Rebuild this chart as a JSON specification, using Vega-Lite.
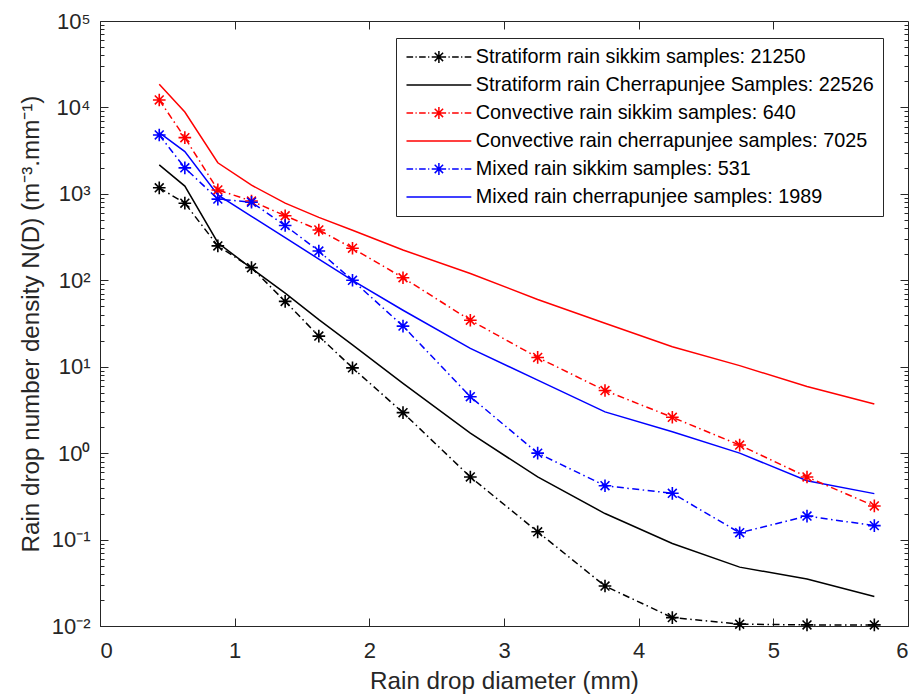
{
  "$schema": "https://vega.github.io/schema/vega-lite/v6.json",
  "width": 808,
  "height": 605,
  "autosize": {"type": "none"},
  "padding": {"left": 100, "top": 21, "right": 6, "bottom": 69},
  "background": "white",
  "config": {
    "view": {"stroke": "#262626", "strokeWidth": 1},
    "font": "Liberation Sans",
    "axis": {
      "domainColor": "#262626", "tickColor": "#262626", "labelColor": "#262626", "titleColor": "#262626",
      "grid": false, "labelFont": "Liberation Sans", "titleFont": "Liberation Sans", "titleFontWeight": "normal",
      "tickWidth": 1, "domainWidth": 1
    }
  },
  "data": {"values": [
    {"s": "Stratiform rain sikkim samples: 21250", "d": 0.44, "n": 1175},
    {"s": "Stratiform rain sikkim samples: 21250", "d": 0.63, "n": 780},
    {"s": "Stratiform rain sikkim samples: 21250", "d": 0.875, "n": 250},
    {"s": "Stratiform rain sikkim samples: 21250", "d": 1.125, "n": 140},
    {"s": "Stratiform rain sikkim samples: 21250", "d": 1.375, "n": 57},
    {"s": "Stratiform rain sikkim samples: 21250", "d": 1.625, "n": 22.6},
    {"s": "Stratiform rain sikkim samples: 21250", "d": 1.875, "n": 9.7},
    {"s": "Stratiform rain sikkim samples: 21250", "d": 2.25, "n": 2.94},
    {"s": "Stratiform rain sikkim samples: 21250", "d": 2.75, "n": 0.53},
    {"s": "Stratiform rain sikkim samples: 21250", "d": 3.25, "n": 0.123},
    {"s": "Stratiform rain sikkim samples: 21250", "d": 3.75, "n": 0.029},
    {"s": "Stratiform rain sikkim samples: 21250", "d": 4.25, "n": 0.0125},
    {"s": "Stratiform rain sikkim samples: 21250", "d": 4.75, "n": 0.0105},
    {"s": "Stratiform rain sikkim samples: 21250", "d": 5.25, "n": 0.0103},
    {"s": "Stratiform rain sikkim samples: 21250", "d": 5.75, "n": 0.0103},
    {"s": "Stratiform rain Cherrapunjee Samples: 22526", "d": 0.44, "n": 2160},
    {"s": "Stratiform rain Cherrapunjee Samples: 22526", "d": 0.63, "n": 1230},
    {"s": "Stratiform rain Cherrapunjee Samples: 22526", "d": 0.875, "n": 272},
    {"s": "Stratiform rain Cherrapunjee Samples: 22526", "d": 1.125, "n": 137},
    {"s": "Stratiform rain Cherrapunjee Samples: 22526", "d": 1.375, "n": 71},
    {"s": "Stratiform rain Cherrapunjee Samples: 22526", "d": 1.625, "n": 35},
    {"s": "Stratiform rain Cherrapunjee Samples: 22526", "d": 1.875, "n": 17.9},
    {"s": "Stratiform rain Cherrapunjee Samples: 22526", "d": 2.25, "n": 6.4},
    {"s": "Stratiform rain Cherrapunjee Samples: 22526", "d": 2.75, "n": 1.7},
    {"s": "Stratiform rain Cherrapunjee Samples: 22526", "d": 3.25, "n": 0.53},
    {"s": "Stratiform rain Cherrapunjee Samples: 22526", "d": 3.75, "n": 0.2},
    {"s": "Stratiform rain Cherrapunjee Samples: 22526", "d": 4.25, "n": 0.09},
    {"s": "Stratiform rain Cherrapunjee Samples: 22526", "d": 4.75, "n": 0.048},
    {"s": "Stratiform rain Cherrapunjee Samples: 22526", "d": 5.25, "n": 0.035},
    {"s": "Stratiform rain Cherrapunjee Samples: 22526", "d": 5.75, "n": 0.022},
    {"s": "Convective rain sikkim samples: 640", "d": 0.44, "n": 12200},
    {"s": "Convective rain sikkim samples: 640", "d": 0.63, "n": 4470},
    {"s": "Convective rain sikkim samples: 640", "d": 0.875, "n": 1110},
    {"s": "Convective rain sikkim samples: 640", "d": 1.125, "n": 826},
    {"s": "Convective rain sikkim samples: 640", "d": 1.375, "n": 558},
    {"s": "Convective rain sikkim samples: 640", "d": 1.625, "n": 382},
    {"s": "Convective rain sikkim samples: 640", "d": 1.875, "n": 235},
    {"s": "Convective rain sikkim samples: 640", "d": 2.25, "n": 107},
    {"s": "Convective rain sikkim samples: 640", "d": 2.75, "n": 34.5},
    {"s": "Convective rain sikkim samples: 640", "d": 3.25, "n": 12.8},
    {"s": "Convective rain sikkim samples: 640", "d": 3.75, "n": 5.3},
    {"s": "Convective rain sikkim samples: 640", "d": 4.25, "n": 2.6},
    {"s": "Convective rain sikkim samples: 640", "d": 4.75, "n": 1.24},
    {"s": "Convective rain sikkim samples: 640", "d": 5.25, "n": 0.53},
    {"s": "Convective rain sikkim samples: 640", "d": 5.75, "n": 0.245},
    {"s": "Convective rain cherrapunjee samples: 7025", "d": 0.44, "n": 18500},
    {"s": "Convective rain cherrapunjee samples: 7025", "d": 0.63, "n": 8850},
    {"s": "Convective rain cherrapunjee samples: 7025", "d": 0.875, "n": 2290},
    {"s": "Convective rain cherrapunjee samples: 7025", "d": 1.125, "n": 1260},
    {"s": "Convective rain cherrapunjee samples: 7025", "d": 1.375, "n": 780},
    {"s": "Convective rain cherrapunjee samples: 7025", "d": 1.625, "n": 535},
    {"s": "Convective rain cherrapunjee samples: 7025", "d": 1.875, "n": 380},
    {"s": "Convective rain cherrapunjee samples: 7025", "d": 2.25, "n": 224},
    {"s": "Convective rain cherrapunjee samples: 7025", "d": 2.75, "n": 120},
    {"s": "Convective rain cherrapunjee samples: 7025", "d": 3.25, "n": 60},
    {"s": "Convective rain cherrapunjee samples: 7025", "d": 3.75, "n": 31.8},
    {"s": "Convective rain cherrapunjee samples: 7025", "d": 4.25, "n": 17},
    {"s": "Convective rain cherrapunjee samples: 7025", "d": 4.75, "n": 10.3},
    {"s": "Convective rain cherrapunjee samples: 7025", "d": 5.25, "n": 5.9},
    {"s": "Convective rain cherrapunjee samples: 7025", "d": 5.75, "n": 3.7},
    {"s": "Mixed rain sikkim samples: 531", "d": 0.44, "n": 4800},
    {"s": "Mixed rain sikkim samples: 531", "d": 0.63, "n": 2000},
    {"s": "Mixed rain sikkim samples: 531", "d": 0.875, "n": 870},
    {"s": "Mixed rain sikkim samples: 531", "d": 1.125, "n": 800},
    {"s": "Mixed rain sikkim samples: 531", "d": 1.375, "n": 430},
    {"s": "Mixed rain sikkim samples: 531", "d": 1.625, "n": 218},
    {"s": "Mixed rain sikkim samples: 531", "d": 1.875, "n": 100},
    {"s": "Mixed rain sikkim samples: 531", "d": 2.25, "n": 29.5},
    {"s": "Mixed rain sikkim samples: 531", "d": 2.75, "n": 4.5},
    {"s": "Mixed rain sikkim samples: 531", "d": 3.25, "n": 1.0},
    {"s": "Mixed rain sikkim samples: 531", "d": 3.75, "n": 0.42},
    {"s": "Mixed rain sikkim samples: 531", "d": 4.25, "n": 0.343},
    {"s": "Mixed rain sikkim samples: 531", "d": 4.75, "n": 0.12},
    {"s": "Mixed rain sikkim samples: 531", "d": 5.25, "n": 0.187},
    {"s": "Mixed rain sikkim samples: 531", "d": 5.75, "n": 0.145},
    {"s": "Mixed rain cherrapunjee samples: 1989", "d": 0.44, "n": 5100},
    {"s": "Mixed rain cherrapunjee samples: 1989", "d": 0.63, "n": 3080},
    {"s": "Mixed rain cherrapunjee samples: 1989", "d": 0.875, "n": 970},
    {"s": "Mixed rain cherrapunjee samples: 1989", "d": 1.125, "n": 550},
    {"s": "Mixed rain cherrapunjee samples: 1989", "d": 1.375, "n": 311},
    {"s": "Mixed rain cherrapunjee samples: 1989", "d": 1.625, "n": 176},
    {"s": "Mixed rain cherrapunjee samples: 1989", "d": 1.875, "n": 100},
    {"s": "Mixed rain cherrapunjee samples: 1989", "d": 2.25, "n": 45},
    {"s": "Mixed rain cherrapunjee samples: 1989", "d": 2.75, "n": 16.3},
    {"s": "Mixed rain cherrapunjee samples: 1989", "d": 3.25, "n": 7.0},
    {"s": "Mixed rain cherrapunjee samples: 1989", "d": 3.75, "n": 3.0},
    {"s": "Mixed rain cherrapunjee samples: 1989", "d": 4.25, "n": 1.77},
    {"s": "Mixed rain cherrapunjee samples: 1989", "d": 4.75, "n": 1.0},
    {"s": "Mixed rain cherrapunjee samples: 1989", "d": 5.25, "n": 0.48},
    {"s": "Mixed rain cherrapunjee samples: 1989", "d": 5.75, "n": 0.34}
  ]},
  "resolve": {"axis": {"x": "independent", "y": "independent"}},
  "layer": [
    {
      "transform": [{"filter": "indexof(datum.s, 'sikkim') < 0"}],
      "mark": {"type": "line", "strokeWidth": 1.5},
      "encoding": {
        "x": {"field": "d", "type": "quantitative", "scale": {"domain": [0, 6], "nice": false},
          "axis": {"orient": "bottom", "values": [0, 1, 2, 3, 4, 5, 6], "tickSize": -8, "labelPadding": 22, "labelFontSize": 22, "format": "d", "title": "Rain drop diameter (mm)", "titleFontSize": 24.2, "titlePadding": 8}},
        "y": {"field": "n", "type": "quantitative", "scale": {"type": "log", "domain": [0.01, 100000], "nice": false},
          "axis": {"orient": "left", "values": [0.01, 0.1, 1, 10, 100, 1000, 10000, 100000], "tickSize": -8, "labelPadding": 18, "labelFontSize": 22,
            "labelExpr": "'10' + (datum.value < 0.05 ? '⁻²' : datum.value < 0.5 ? '⁻¹' : datum.value < 5 ? '⁰' : datum.value < 50 ? '¹' : datum.value < 500 ? '²' : datum.value < 5000 ? '³' : datum.value < 50000 ? '⁴' : '⁵')",
            "title": "Rain drop number density N(D) (m⁻³.mm⁻¹)", "titleFontSize": 24.2, "titlePadding": 8}},
        "color": {"field": "s", "type": "nominal",
          "scale": {"domain": ["Stratiform rain sikkim samples: 21250", "Stratiform rain Cherrapunjee Samples: 22526", "Convective rain sikkim samples: 640", "Convective rain cherrapunjee samples: 7025", "Mixed rain sikkim samples: 531", "Mixed rain cherrapunjee samples: 1989"],
            "range": ["#000000", "#000000", "#ff0000", "#ff0000", "#0000ff", "#0000ff"]},
          "legend": {"orient": "none", "legendX": 296, "legendY": 17, "title": null, "strokeColor": "#262626", "fillColor": "white", "padding": 9,
            "symbolSize": 144, "symbolOffset": 24, "labelOffset": 27, "labelFontSize": 19.8, "labelFont": "Liberation Sans", "labelColor": "#000000", "rowPadding": 7, "labelLimit": 0, "symbolStrokeWidth": 1.5,
            "encode": {"symbols": {"update": {
              "shape": {"signal": "indexof(datum.value, 'sikkim') >= 0 ? 'M-5.4,0H-4.3M-3.9,0H-3.7M-3.3,0H-2.2M-1.8,0H-1.6M-1.2,0H1.2M1.6,0H1.8M2.2,0H3.3M3.7,0H3.9M4.3,0H5.4M0,-1V1M-0.7,-0.7L0.7,0.7M-0.7,0.7L0.7,-0.7' : 'M-5.4,0H5.4'"},
              "fill": {"value": "transparent"}, "strokeWidth": {"value": 1.5}, "opacity": {"value": 1}}}}}}
      }
    },
    {
      "transform": [{"filter": "indexof(datum.s, 'sikkim') >= 0"}],
      "mark": {"type": "line", "strokeWidth": 1.5, "strokeDash": [7, 3.5, 1.5, 3.5]},
      "encoding": {
        "x": {"field": "d", "type": "quantitative", "scale": {"domain": [0, 6], "nice": false}, "axis": null},
        "y": {"field": "n", "type": "quantitative", "scale": {"type": "log", "domain": [0.01, 100000], "nice": false}, "axis": null},
        "color": {"field": "s", "type": "nominal"}
      }
    },
    {
      "transform": [{"filter": "indexof(datum.s, 'sikkim') >= 0"}],
      "mark": {"type": "point", "filled": false, "shape": "M-1,0H1M0,-1V1M-0.7,-0.7L0.7,0.7M-0.7,0.7L0.7,-0.7", "size": 160, "strokeWidth": 1.6, "opacity": 1},
      "encoding": {
        "x": {"field": "d", "type": "quantitative", "scale": {"domain": [0, 6], "nice": false}, "axis": null},
        "y": {"field": "n", "type": "quantitative", "scale": {"type": "log", "domain": [0.01, 100000], "nice": false}, "axis": null},
        "color": {"field": "s", "type": "nominal"}
      }
    },
    {
      "mark": {"type": "point", "opacity": 0},
      "encoding": {
        "x": {"field": "d", "type": "quantitative", "scale": {"domain": [0, 6], "nice": false},
          "axis": {"orient": "top", "values": [1, 2, 3, 4, 5], "tickSize": -8, "labels": false, "title": null, "domain": false}},
        "y": {"field": "n", "type": "quantitative", "scale": {"type": "log", "domain": [0.01, 100000], "nice": false},
          "axis": {"orient": "right", "values": [0.1, 1, 10, 100, 1000, 10000], "tickSize": -8, "labels": false, "title": null, "domain": false}}
      }
    },
    {
      "mark": {"type": "point", "opacity": 0},
      "encoding": {
        "x": {"field": "d", "type": "quantitative", "scale": {"domain": [0, 6], "nice": false}, "axis": null},
        "y": {"field": "n", "type": "quantitative", "scale": {"type": "log", "domain": [0.01, 100000], "nice": false},
          "axis": {"orient": "left", "values": [0.02,0.03,0.04,0.05,0.06,0.07,0.08,0.09,0.2,0.3,0.4,0.5,0.6,0.7,0.8,0.9,2,3,4,5,6,7,8,9,20,30,40,50,60,70,80,90,200,300,400,500,600,700,800,900,2000,3000,4000,5000,6000,7000,8000,9000,20000,30000,40000,50000,60000,70000,80000,90000], "tickSize": -4, "labels": false, "title": null, "domain": false}}
      }
    },
    {
      "mark": {"type": "point", "opacity": 0},
      "encoding": {
        "x": {"field": "d", "type": "quantitative", "scale": {"domain": [0, 6], "nice": false}, "axis": null},
        "y": {"field": "n", "type": "quantitative", "scale": {"type": "log", "domain": [0.01, 100000], "nice": false},
          "axis": {"orient": "right", "values": [0.02,0.03,0.04,0.05,0.06,0.07,0.08,0.09,0.2,0.3,0.4,0.5,0.6,0.7,0.8,0.9,2,3,4,5,6,7,8,9,20,30,40,50,60,70,80,90,200,300,400,500,600,700,800,900,2000,3000,4000,5000,6000,7000,8000,9000,20000,30000,40000,50000,60000,70000,80000,90000], "tickSize": -4, "labels": false, "title": null, "domain": false}}
      }
    }
  ]
}
